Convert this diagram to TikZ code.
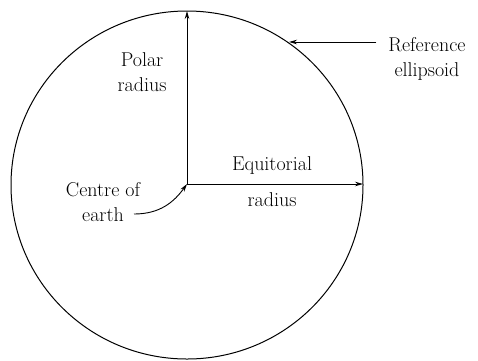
\documentclass[tikz,border=0pt]{standalone}
\usetikzlibrary{arrows.meta}
\begin{document}
\begin{tikzpicture}[x=1pt,y=-1pt,
  lbl/.style={align=center,font=\rmfamily\fontsize{20}{25}\selectfont,inner sep=0pt},
  ln/.style={line width=0.9pt,-{Stealth[length=8pt,width=4.5pt]}}]
\useasboundingbox (0,0) rectangle (478,360);
\coordinate (c) at (187,184);
\coordinate (t) at (187,11);
\coordinate (r) at (363,184);
\coordinate (p) at (289,42);
\draw[line width=1pt] (187,185) ellipse [x radius=176, y radius=174];
\draw[ln] (c) -- (t);
\draw[ln] (c) -- (r);
\node[lbl] (polar) at (142,72) {Polar\\radius};
\node[lbl] (eq) at (272,182) {Equitorial\\[11pt]radius};
\node[lbl] (centre) at (103,202) {Centre of\\earth};
\node[lbl] (ref) at (427,59) {Reference\\ellipsoid};
\coordinate (e) at (134,214);
\draw[ln] (e) .. controls (160,214) and (174,202) .. (c);
\draw[ln] ([xshift=-12pt]ref.west |- p) -- (p);
\end{tikzpicture}
\end{document}
